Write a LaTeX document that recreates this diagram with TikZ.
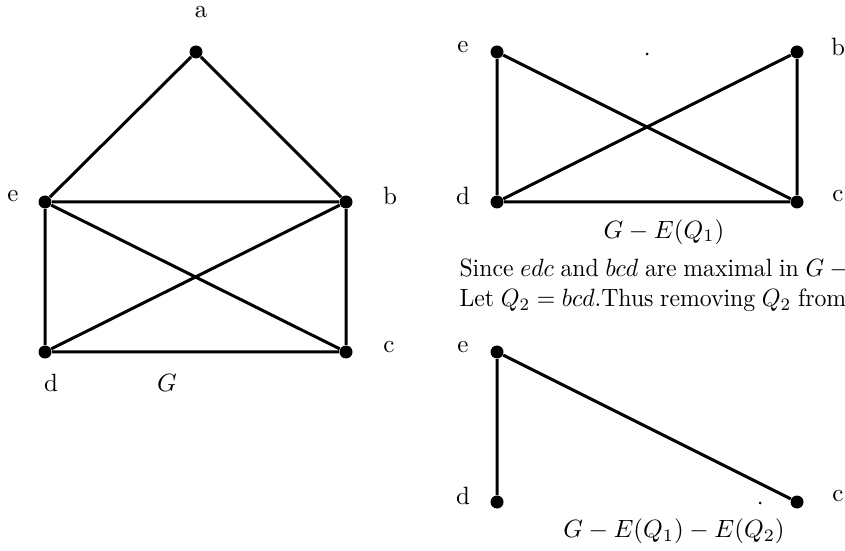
\documentclass[tikz,border=0pt]{standalone}
\newcommand{\tightline}[1]{{\spaceskip=2.8pt\relax\scalebox{0.95}[1]{#1}}}
\begin{document}
\begin{tikzpicture}[x=0.4pt,y=-0.4pt,
  vtx/.style={circle,fill=black,inner sep=0pt,minimum size=5.2pt},
  edge/.style={line width=1.2pt},
  lbl/.style={inner sep=0pt},
  prose/.style={inner sep=0pt,anchor=base west},
  speck/.style={circle,fill=black,inner sep=0pt,minimum size=1.2pt}]
\useasboundingbox (0,0) rectangle (845,551);
% Graph G
\node[vtx] (a) at (196,52) {};
\node[vtx] (e) at (45,202) {};
\node[vtx] (b) at (346,202) {};
\node[vtx] (d) at (45,352) {};
\node[vtx] (c) at (346,352) {};
\draw[edge] (a) -- (e) (a) -- (b) (e) -- (b) (e) -- (d) (b) -- (c) (d) -- (c) (e) -- (c) (d) -- (b);
\node[lbl] (la) at (201,12) {a};
\node[lbl] (le) at (13,196) {e};
\node[lbl] (lb) at (390,196) {b};
\node[lbl] (lc) at (389,347) {c};
\node[lbl] (ld) at (51,383) {d};
\node[lbl] (lG) at (167,383) {$G$};
% G - E(Q1)
\node[vtx] (e1) at (497,52) {};
\node[vtx] (b1) at (797,52) {};
\node[vtx] (d1) at (497,202) {};
\node[vtx] (c1) at (797,202) {};
\draw[edge] (e1) -- (d1) (b1) -- (c1) (d1) -- (c1) (e1) -- (c1) (d1) -- (b1);
\node[speck] (s1) at (647,54) {};
\node[lbl] (le1) at (463,47) {e};
\node[lbl] (lb1) at (838,47) {b};
\node[lbl] (ld1) at (463,196) {d};
\node[lbl] (lc1) at (838,196) {c};
\node[lbl] (cap1) at (664,232) {$G-E(Q_1)$};
\node[prose] (t1) at (459,277) {\tightline{Since $edc$ and $bcd$ are maximal in $G-{}$}};
\node[prose] (t2) at (459,307) {\tightline{Let $Q_2=bcd$.Thus removing $Q_2$ from}};
% G - E(Q1) - E(Q2)
\node[vtx] (e2) at (497,352) {};
\node[vtx] (d2) at (497,502) {};
\node[vtx] (c2) at (797,502) {};
\draw[edge] (e2) -- (d2) (e2) -- (c2);
\node[speck] (s2) at (760,503) {};
\node[lbl] (le2) at (463,347) {e};
\node[lbl] (ld2) at (463,496) {d};
\node[lbl] (lc2) at (838,496) {c};
\node[lbl] (cap2) at (674,531) {$G-E(Q_1)-E(Q_2)$};
\end{tikzpicture}
\end{document}
